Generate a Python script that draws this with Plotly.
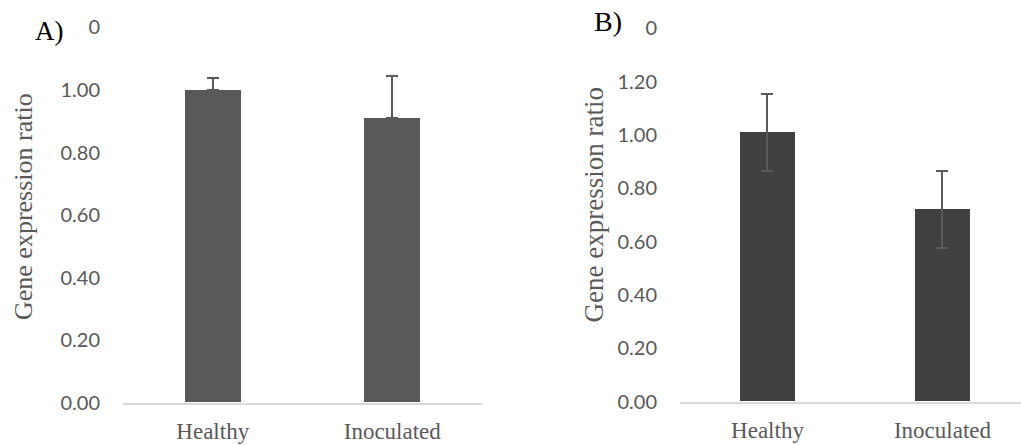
import plotly.graph_objects as go

categories = ["Healthy", "Inoculated"]
values_a = [1.00, 0.909]
errors_a = [0.038, 0.135]
values_b = [1.01, 0.721]
errors_b = [0.145, 0.144]
tickvals_a = [0, 0.2, 0.4, 0.6, 0.8, 1.0, 1.2]
ticktext_a = ["0.00", "0.20", "0.40", "0.60", "0.80", "1.00", "0"]
tickvals_b = [0, 0.2, 0.4, 0.6, 0.8, 1.0, 1.2, 1.4]
ticktext_b = ["0.00", "0.20", "0.40", "0.60", "0.80", "1.00", "1.20", "0"]

W, H = 1021, 445
ERR_COLOR = "#5a5a5a"
TICK_COLOR = "#595959"

fig = go.Figure()
fig.add_trace(go.Bar(
    x=categories, y=values_a, xaxis="x", yaxis="y",
    marker=dict(color="#595959", line=dict(width=0)), width=0.312,
    error_y=dict(type="data", array=errors_a, symmetric=False, arrayminus=[0, 0],
                 color=ERR_COLOR, thickness=2, width=6),
    showlegend=False,
))
fig.add_trace(go.Bar(
    x=categories, y=values_b, xaxis="x2", yaxis="y2",
    marker=dict(color="#404040", line=dict(width=0)), width=0.314,
    error_y=dict(type="data", array=errors_b, color=ERR_COLOR, thickness=2, width=6),
    showlegend=False,
))

tickfont = dict(family="Lato", size=20, color=TICK_COLOR)
catfont = dict(family="Liberation Serif", size=23, color=TICK_COLOR)

fig.update_layout(
    width=W, height=H,
    margin=dict(l=0, r=0, t=0, b=0, pad=0, autoexpand=False),
    paper_bgcolor="white", plot_bgcolor="white",
    bargap=0,
    xaxis=dict(domain=[123 / W, 482 / W], range=[-0.5, 1.5], type="category",
               showline=True, linecolor="#d9d9d9", linewidth=1.5,
               showgrid=False, ticks="", tickfont=catfont, ticklabelstandoff=7,
               anchor="y", automargin=False),
    yaxis=dict(domain=[(H - 402.7) / H, (H - 27.4) / H], range=[0, 1.2],
               tickvals=tickvals_a, ticktext=ticktext_a, tickfont=tickfont,
               showgrid=False, zeroline=False, showline=False, ticks="",
               ticklabelstandoff=22, anchor="x", automargin=False),
    xaxis2=dict(domain=[680 / W, 1.0], range=[-0.5, 1.449], type="category",
                showline=True, linecolor="#d9d9d9", linewidth=1.5,
                showgrid=False, ticks="", tickfont=catfont, ticklabelstandoff=7,
                anchor="y2", automargin=False),
    yaxis2=dict(domain=[(H - 401.7) / H, (H - 28.4) / H], range=[0, 1.4],
                tickvals=tickvals_b, ticktext=ticktext_b, tickfont=tickfont,
                showgrid=False, zeroline=False, showline=False, ticks="",
                ticklabelstandoff=22, anchor="x2", automargin=False),
    annotations=[
        dict(text="Gene expression ratio", textangle=-90, x=23 / W, y=1 - 207 / H,
             xref="paper", yref="paper", xanchor="center", yanchor="middle",
             showarrow=False, font=dict(family="Liberation Serif", size=26, color=TICK_COLOR)),
        dict(text="Gene expression ratio", textangle=-90, x=594 / W, y=1 - 205.5 / H,
             xref="paper", yref="paper", xanchor="center", yanchor="middle",
             showarrow=False, font=dict(family="Liberation Serif", size=27, color=TICK_COLOR)),
        dict(text="A)", x=33 / W, y=1 - 31 / H, xref="paper", yref="paper",
             xanchor="left", yanchor="middle", showarrow=False,
             font=dict(family="Liberation Serif", size=27, color="black")),
        dict(text="B)", x=592 / W, y=1 - 22 / H, xref="paper", yref="paper",
             xanchor="left", yanchor="middle", showarrow=False,
             font=dict(family="Liberation Serif", size=28, color="black")),
    ],
)

fig.write_html("out.html")
